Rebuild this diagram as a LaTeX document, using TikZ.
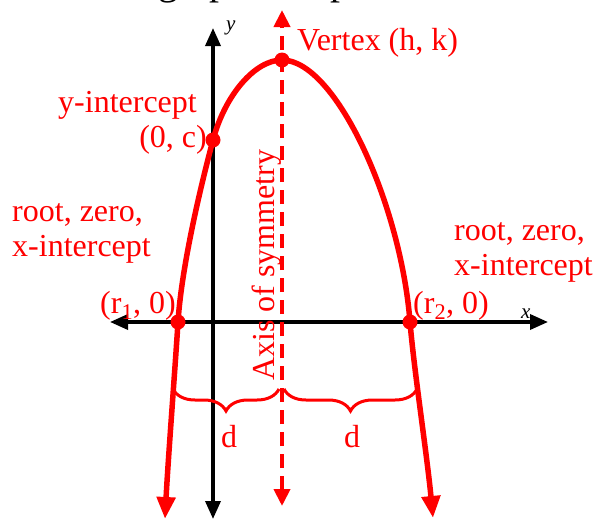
\documentclass[tikz,border=0pt]{standalone}
\usepackage{fontspec}
\setmainfont{Liberation Serif}
\usetikzlibrary{arrows.meta,decorations.pathreplacing}
\begin{document}
\begin{tikzpicture}[x=1pt,y=-1pt,
  lbl/.style={text=red, font=\fontsize{32}{36}\selectfont, inner sep=0pt},
  axislbl/.style={font=\itshape\fontsize{21}{24}\selectfont, inner sep=0pt},
  axisline/.style={line width=3.5pt, {Triangle[width=15pt,length=18pt]}-{Triangle[width=15pt,length=18pt]}},
  curvestyle/.style={red, line width=5.5pt, -{Triangle[width=18pt,length=22pt]}},
  dot/.style={circle, fill=red, inner sep=0pt, minimum size=15pt},
  symline/.style={red, line width=4pt, dash pattern=on 14pt off 8pt, {Triangle[width=16pt,length=17pt]}-{Triangle[width=16pt,length=17pt]}},
  bracestyle/.style={red, line width=3pt, decorate, decoration={brace, mirror, amplitude=22pt}}
]
\useasboundingbox (0,0) rectangle (597,520);

% clipped title at the top
\begin{scope}
\clip (0,0) rectangle (597,20);
\node[anchor=base west, font=\fontsize{40}{44}\selectfont, inner sep=0pt] (title) at (158,-6) {graph of a parabola};
\end{scope}

% key points
\coordinate (pV) at (282,60);
\coordinate (pC) at (213,140);
\coordinate (pR1) at (178,322);
\coordinate (pR2) at (410,322);

% axes
\coordinate (yb) at (213,519);
\coordinate (yt) at (213,28);
\coordinate (xl) at (110,322);
\coordinate (xr) at (548,322);
\draw[axisline] (yb) -- (yt);
\draw[axisline] (xl) -- (xr);

% axis of symmetry
\coordinate (sb) at (282,506);
\coordinate (st) at (282,10);
\draw[symline] (sb) -- (st);

% parabola
\coordinate (lend) at (165,519);
\coordinate (rend) at (433,518);
\draw[curvestyle] (pV) .. controls (255,60) and (225,95) .. (pC)
  .. controls (205,170) and (182,260) .. (pR1)
  .. controls (175,370) and (168,460) .. (lend);
\draw[curvestyle] (pV) .. controls (336,60) and (401,205) .. (pR2)
  .. controls (414,370) and (427,455) .. (rend);

% dots
\node[dot] (V) at (pV) {};
\node[dot] (C) at (pC) {};
\node[dot] (R1) at (pR1) {};
\node[dot] (R2) at (pR2) {};

% braces
\coordinate (b1a) at (173,389);
\coordinate (b1b) at (279,389);
\coordinate (b2a) at (284,389);
\coordinate (b2b) at (417,389);
\draw[bracestyle] (b1a) -- (b1b);
\draw[bracestyle] (b2a) -- (b2b);

% labels
\node[axislbl, anchor=base west] (ylbl) at (226,30) {y};
\node[axislbl, anchor=base west] (xlbl) at (521,318) {x};
\node[lbl, anchor=base west] (vlbl) at (297,50) {Vertex (h, k)};
\node[lbl, anchor=base east] (yint) at (197,112) {y-intercept};
\node[lbl, anchor=base east] (clbl) at (207,147) {(0, c)};
\node[lbl, anchor=base west] (lroot1) at (12,221) {root, zero,};
\node[lbl, anchor=base west] (lroot2) at (12,256) {x-intercept};
\node[lbl, anchor=base west] (rroot1) at (454,240) {root, zero,};
\node[lbl, anchor=base west] (rroot2) at (454,275) {x-intercept};
\node[lbl, anchor=base west] (r1lbl) at (100,313) {(r\textsubscript{1}, 0)};
\node[lbl, anchor=base west] (r2lbl) at (413,313) {(r\textsubscript{2}, 0)};
\node[lbl, rotate=90, anchor=base] (axlbl) at (274,265) {Axis of symmetry};
\node[lbl, anchor=base] (d1) at (229,447) {d};
\node[lbl, anchor=base] (d2) at (352,447) {d};
\end{tikzpicture}
\end{document}
